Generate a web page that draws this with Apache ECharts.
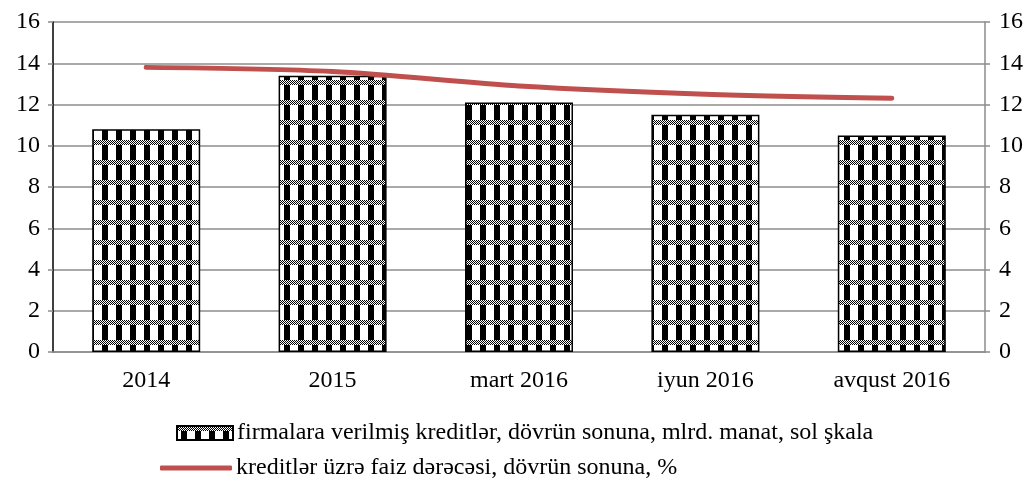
<!DOCTYPE html>
<html>
<head>
<meta charset="utf-8">
<script src="https://cdn.jsdelivr.net/npm/echarts@6/dist/echarts.min.js"></script>
<style>
  html, body { margin: 0; padding: 0; background: #fff; }
  #chart { width: 1034px; height: 484px; }
</style>
</head>
<body>
<div id="chart"></div>
<script>
const categories = ["2014", "2015", "mart 2016", "iyun 2016", "avqust 2016"];
const credits = [10.8, 13.4, 12.1, 11.5, 10.5];
const rates = [13.8, 13.6, 12.9, 12.5, 12.3];
const barName = "firmalara verilmiş kreditlər, dövrün sonuna, mlrd. manat, sol şkala";
const lineName = "kreditlər üzrə faiz dərəcəsi, dövrün sonuna, %";

// checkered fill like the original bars
const makePattern = () => {
  const c = document.createElement("canvas");
  c.width = 14;
  c.height = 20;
  const ctx = c.getContext("2d");
  ctx.fillStyle = "#fff";
  ctx.fillRect(0, 0, 14, 20);
  ctx.fillStyle = "#000";
  for (let y = 0; y < 5; y++) {
    for (let x = 0; x < 14; x++) {
      if ((x + y) % 2 === 0) ctx.fillRect(x, y, 1, 1);
    }
  }
  ctx.fillRect(4, 5, 6, 15);
  return c;
};

const font = "Liberation Serif";
const chart = echarts.init(document.getElementById("chart"));
chart.setOption({
  animation: false,
  grid: { left: 53, right: 49, top: 22, bottom: 132 },
  legend: [
    {
      data: [{ name: barName, icon: "rect" }],
      left: 176,
      top: 421,
      padding: 0,
      itemWidth: 56,
      itemHeight: 14,
      textStyle: { fontFamily: font, fontSize: 24, color: "#000", padding: [0, 0, 0, -1] }
    },
    {
      data: [{ name: lineName, icon: "roundRect" }],
      left: 160,
      top: 456,
      padding: 0,
      itemWidth: 72,
      itemHeight: 5,
      textStyle: { fontFamily: font, fontSize: 24, color: "#000", padding: [0, 0, 0, -1] }
    }
  ],
  xAxis: {
    type: "category",
    data: categories,
    axisTick: { show: false },
    axisLine: { lineStyle: { color: "#8c8c8c", width: 1.5 } },
    axisLabel: { fontFamily: font, fontSize: 24, color: "#000", margin: 17 }
  },
  yAxis: [
    {
      type: "value",
      min: 0,
      max: 16,
      interval: 2,
      axisLine: { show: true, lineStyle: { color: "#000", width: 1.5 } },
      axisTick: { show: true, length: 5, lineStyle: { color: "#8c8c8c", width: 1.5 } },
      splitLine: { lineStyle: { color: "#8c8c8c", width: 1.5 } },
      axisLabel: { fontFamily: font, fontSize: 24, color: "#000", margin: 13 }
    },
    {
      type: "value",
      min: 0,
      max: 16,
      interval: 2,
      position: "right",
      axisLine: { show: true, lineStyle: { color: "#8c8c8c", width: 1.5 } },
      axisTick: { show: true, length: 5, lineStyle: { color: "#8c8c8c", width: 1.5 } },
      splitLine: { show: false },
      axisLabel: { fontFamily: font, fontSize: 24, color: "#000", margin: 14 }
    }
  ],
  series: [
    {
      name: barName,
      type: "bar",
      data: credits,
      barWidth: 108,
      itemStyle: {
        color: { image: makePattern(), repeat: "repeat" },
        borderColor: "#000",
        borderWidth: 1.5
      }
    },
    {
      name: lineName,
      type: "line",
      yAxisIndex: 1,
      data: rates,
      smooth: 0.3,
      showSymbol: false,
      symbol: "none",
      lineStyle: { color: "#C0504D", width: 5, cap: "round" },
      itemStyle: { color: "#C0504D" }
    }
  ]
});
</script>
</body>
</html>
